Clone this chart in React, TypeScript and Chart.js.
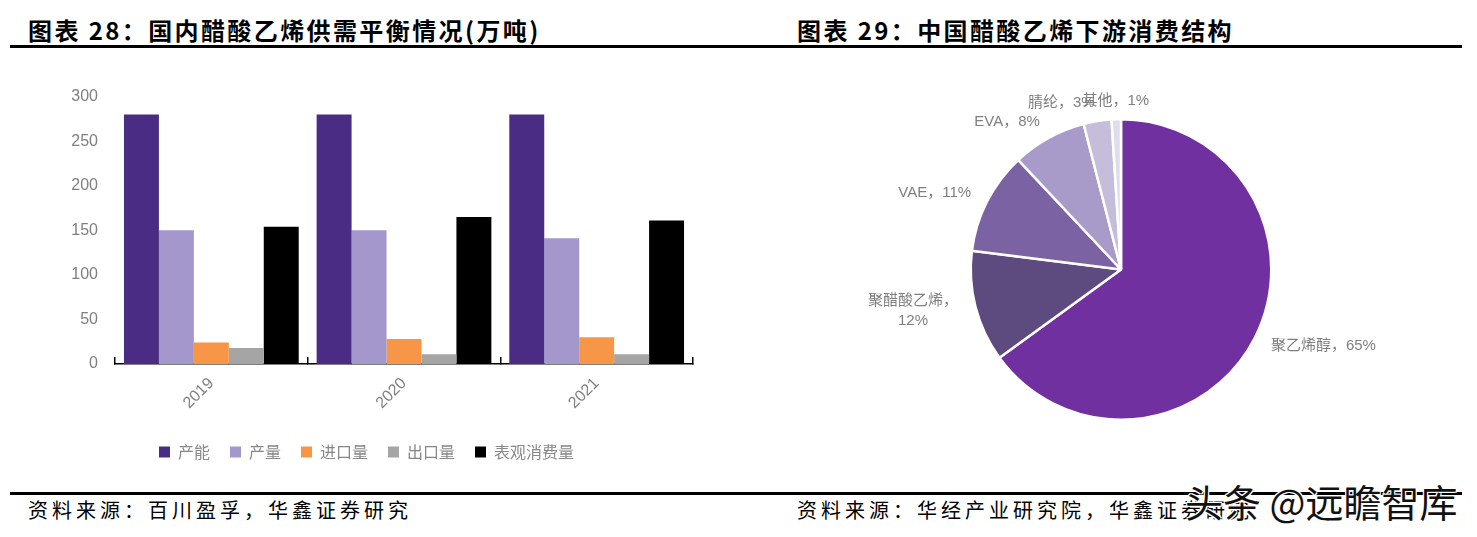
import React, { useEffect, useRef } from "react";
import { Chart, registerables } from "chart.js";

Chart.register(...registerables);

// ---------- data ----------
const years = ["2019", "2020", "2021"];
const seriesNames = ["产能", "产量", "进口量", "出口量", "表观消费量"];
const capacity = [280, 280, 280];
const output = [150, 150, 141];
const imports = [24, 28, 30];
const exportsQ = [18, 11, 11];
const consumption = [154, 165, 161];
const yTicks = [0, 50, 100, 150, 200, 250, 300];

const pieNames = ["聚乙烯醇", "聚醋酸乙烯", "VAE", "EVA", "腈纶", "其他"];
const pieShares = [65, 12, 11, 8, 3, 1];
const wrappedPieNames = ["聚醋酸乙烯"];

// ---------- styles ----------
const barColors = ["#4B2C84", "#A397CB", "#F79646", "#A5A5A5", "#000000"];
const pieColors = ["#7030A0", "#5D4A7E", "#7B62A3", "#A99BC9", "#C6BDDA", "#E1DCEB"];
const axisFont = "'Liberation Sans', Arial, 'Noto Sans CJK SC', sans-serif";
const cjkFont = "'Noto Sans CJK SC', 'Liberation Sans', sans-serif";
const grayText = "#7f7f7f";

function BarChart() {
  const ref = useRef<HTMLCanvasElement | null>(null);
  useEffect(() => {
    if (!ref.current) return;
    const values = [capacity, output, imports, exportsQ, consumption];
    const chart = new Chart(ref.current, {
      type: "bar",
      data: {
        labels: years,
        datasets: seriesNames.map((name, i) => ({
          label: name,
          data: values[i],
          backgroundColor: barColors[i],
          borderWidth: 0,
          categoryPercentage: 0.907,
          barPercentage: 1.0,
        })),
      },
      options: {
        responsive: false,
        animation: false,
        layout: { padding: { left: 0, right: 17, top: 26, bottom: 0 } },
        plugins: {
          tooltip: { enabled: false },
          legend: {
            position: "bottom",
            labels: {
              boxWidth: 11,
              boxHeight: 11,
              padding: 20,
              color: "#888888",
              font: { family: cjkFont, size: 16 },
            },
          },
        },
        scales: {
          x: {
            grid: {
              display: true,
              drawOnChartArea: false,
              drawTicks: true,
              tickLength: -7,
              color: "#000",
              lineWidth: 1.5,
              offset: true,
            },
            border: { display: true, color: "#000", width: 1.5 },
            ticks: {
              minRotation: 45,
              maxRotation: 45,
              padding: 17,
              color: grayText,
              font: { family: axisFont, size: 16 },
            },
            afterFit: (s: any) => {
              s.height = 60;
            },
          },
          y: {
            min: 0,
            max: 300,
            grid: { display: false, drawTicks: false },
            border: { display: false },
            ticks: {
              padding: 17,
              color: grayText,
              font: { family: axisFont, size: 16 },
            },
            afterBuildTicks: (s: any) => {
              s.ticks = yTicks.map((v) => ({ value: v }));
            },
            afterFit: (s: any) => {
              s.width = 75;
            },
          },
        },
      },
    });
    return () => chart.destroy();
  }, []);
  return (
    <canvas
      ref={ref}
      width={670}
      height={400}
      style={{ position: "absolute", left: 40, top: 70, width: 670, height: 400 }}
    />
  );
}

const pieLabelPlugin = {
  id: "pieLabels",
  afterDatasetsDraw(chart: any) {
    const ctx = chart.ctx;
    const meta = chart.getDatasetMeta(0);
    ctx.save();
    ctx.font = `15px ${axisFont}`;
    ctx.fillStyle = grayText;
    ctx.textBaseline = "middle";
    meta.data.forEach((arc: any, i: number) => {
      const p = arc.getProps(["x", "y", "startAngle", "endAngle", "outerRadius"], true);
      const mid = (p.startAngle + p.endAngle) / 2;
      const r = p.outerRadius + 18;
      const ax = p.x + Math.cos(mid) * r;
      const ay = p.y + Math.sin(mid) * r;
      const name = pieNames[i];
      const pct = `${pieShares[i]}%`;
      const lines = wrappedPieNames.includes(name) ? [`${name}，`, pct] : [`${name}，${pct}`];
      const lh = 20;
      const widths = lines.map((l) => ctx.measureText(l).width);
      const maxW = Math.max(...widths);
      const c = Math.cos(mid);
      let left: number;
      if (c > 0.1) left = ax;
      else if (c < -0.1) left = ax - maxW;
      else left = ax - maxW / 2;
      const top = ay - ((lines.length - 1) * lh) / 2;
      lines.forEach((l, k) => {
        ctx.textAlign = "center";
        ctx.fillText(l, left + maxW / 2, top + k * lh);
      });
    });
    ctx.restore();
  },
};

function PieChart() {
  const ref = useRef<HTMLCanvasElement | null>(null);
  useEffect(() => {
    if (!ref.current) return;
    const chart = new Chart(ref.current, {
      type: "pie",
      data: {
        labels: pieNames,
        datasets: [
          {
            data: pieShares,
            backgroundColor: pieColors,
            borderColor: "#ffffff",
            borderWidth: 2.5,
          },
        ],
      },
      options: {
        responsive: false,
        animation: false,
        layout: { padding: { left: 139, right: 157, top: 38, bottom: 39 } },
        plugins: {
          legend: { display: false },
          tooltip: { enabled: false },
        },
      },
      plugins: [pieLabelPlugin],
    });
    return () => chart.destroy();
  }, []);
  return (
    <canvas
      ref={ref}
      width={600}
      height={380}
      style={{ position: "absolute", left: 830, top: 80, width: 600, height: 380 }}
    />
  );
}

export default function App() {
  const titleStyle: React.CSSProperties = {
    position: "absolute",
    top: 18,
    fontFamily: cjkFont,
    fontWeight: 700,
    fontSize: 24,
    lineHeight: "24px",
    letterSpacing: 2.4,
    color: "#000",
    whiteSpace: "nowrap",
  };
  const srcStyle: React.CSSProperties = {
    position: "absolute",
    top: 500,
    fontFamily: cjkFont,
    fontSize: 20,
    lineHeight: "20px",
    letterSpacing: 4,
    color: "#000",
    whiteSpace: "nowrap",
  };
  return (
    <div
      style={{
        position: "absolute",
        left: 0,
        top: 0,
        width: 1477,
        height: 537,
        background: "#fff",
        overflow: "hidden",
      }}
    >
      <div style={{ ...titleStyle, left: 28 }}>图表 28：国内醋酸乙烯供需平衡情况(万吨)</div>
      <div style={{ ...titleStyle, left: 797 }}>图表 29：中国醋酸乙烯下游消费结构</div>
      <div style={{ position: "absolute", left: 10, top: 45, width: 1452, height: 2.5, background: "#000" }} />
      <BarChart />
      <PieChart />
      <div style={{ position: "absolute", left: 10, top: 492, width: 1452, height: 2.5, background: "#000" }} />
      <div style={{ ...srcStyle, left: 28 }}>资料来源：百川盈孚，华鑫证券研究</div>
      <div style={{ ...srcStyle, left: 797 }}>资料来源：华经产业研究院，华鑫证券研究</div>
      <div
        style={{
          position: "absolute",
          left: 1185,
          top: 482,
          fontFamily: cjkFont,
          fontSize: 38,
          lineHeight: "38px",
          color: "#111",
          whiteSpace: "nowrap",
          textShadow: "1px 1px 0 #fff, -1px -1px 0 #fff, 1px -1px 0 #fff, -1px 1px 0 #fff",
        }}
      >
        头条 @远瞻智库
      </div>
    </div>
  );
}
